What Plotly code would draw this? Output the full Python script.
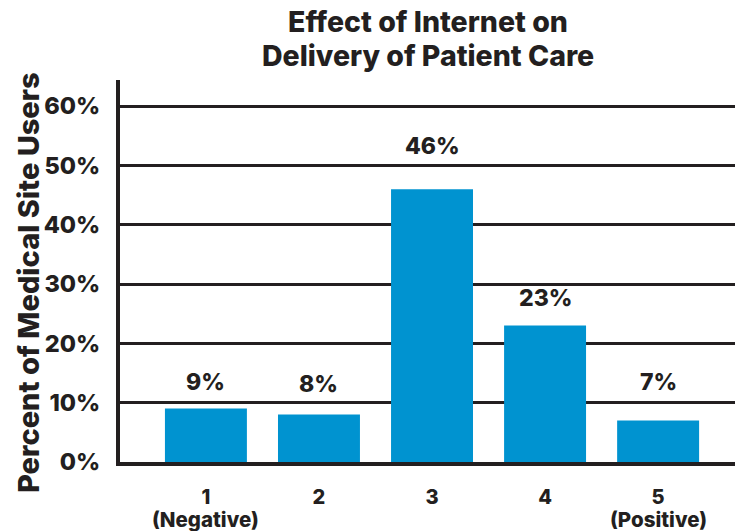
import plotly.graph_objects as go

# Survey responses: effect of the Internet on delivery of patient care
ratings = [1, 2, 3, 4, 5]
rating_numbers = ["1", "2", "3", "4", "5"]
rating_notes = ["(Negative)", "", "", "", "(Positive)"]
percent_users = [9, 8, 46, 23, 7]
y_ticks = [0, 10, 20, 30, 40, 50, 60]
title_lines = ["Effect of Internet on", "Delivery of Patient Care"]

ink = "#231f20"
bar_blue = "#0093d0"
font_family = "Inter, DejaVu Sans, sans-serif"
heavy = 800

# plot area in pixels (used to place paper-referenced text)
plot_top, plot_bottom = 80, 462
plot_left, plot_right = 120, 735


def paper_y(px):
    return (plot_bottom - px) / (plot_bottom - plot_top)


def paper_x(px):
    return (px - plot_left) / (plot_right - plot_left)


def font(size):
    return dict(family=font_family, size=size, color=ink, weight=heavy)


fig = go.Figure(
    go.Bar(
        x=ratings,
        y=percent_users,
        width=0.725,
        marker=dict(color=bar_blue, line=dict(width=0)),
        hoverinfo="skip",
    )
)

# value labels above each bar (pixel lift per label)
label_lift = [27, 31, 43, 28, 38]
for r, v, lift in zip(ratings, percent_users, label_lift):
    fig.add_annotation(
        x=r, y=v, text=f"{v}%", showarrow=False,
        yanchor="middle", yshift=lift, font=font(23),
    )

# secondary category notes under the tick numbers
for r, note in zip(ratings, rating_notes):
    if note:
        fig.add_annotation(
            x=r, xref="x", y=paper_y(519), yref="paper",
            text=note, showarrow=False, yanchor="middle", font=font(20.5),
        )

# chart title, one annotation per line for tight leading
for line, centre_px in zip(title_lines, [22, 55]):
    fig.add_annotation(
        x=0.5, xref="paper", y=paper_y(centre_px), yref="paper",
        text=line, showarrow=False, yanchor="middle", xanchor="center",
        font=font(28.5),
    )

# y-axis title
fig.add_annotation(
    x=paper_x(28), xref="paper", y=paper_y(283), yref="paper",
    text="Percent of Medical Site Users", textangle=-90,
    showarrow=False, xanchor="center", yanchor="middle", font=font(29),
)

fig.update_layout(
    width=735, height=531,
    margin=dict(l=plot_left, r=735 - plot_right, t=plot_top, b=531 - plot_bottom),
    paper_bgcolor="white", plot_bgcolor="white",
    showlegend=False,
    font=dict(family=font_family, color=ink),
)

fig.update_xaxes(
    range=[0.24, 5.68],
    tickvals=ratings,
    ticktext=rating_numbers,
    tickfont=font(20),
    showline=True, linecolor=ink, linewidth=4,
    showgrid=False, zeroline=False, ticks="",
    ticklabelstandoff=14,
)

fig.update_yaxes(
    range=[0, 64.4],
    tickvals=y_ticks,
    ticktext=[f"{t}%" for t in y_ticks],
    tickfont=font(23.5),
    showline=True, linecolor=ink, linewidth=4,
    showgrid=True, gridcolor=ink, gridwidth=3,
    zeroline=False, ticks="",
    ticklabelstandoff=11,
)

fig.write_html("out.html")
